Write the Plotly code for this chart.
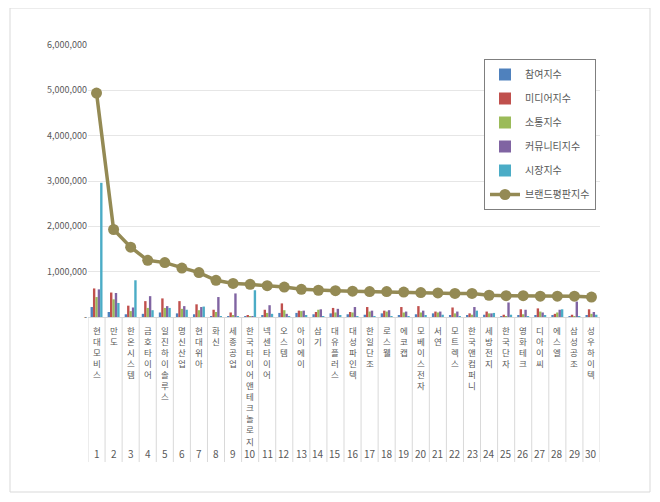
import plotly.graph_objects as go

categories = ["현대모비스", "만도", "한온시스템", "금호타이어", "일진하이솔루스", "명신산업", "현대위아", "화신",
              "세종공업", "한국타이어앤테크놀로지", "넥센타이어", "오스템", "아이에이", "삼기", "대유플러스",
              "대성파인텍", "한일단조", "로스웰", "에코캡", "모베이스전자", "서연", "모트렉스", "한국앤컴퍼니",
              "세방전지", "한국단자", "영화테크", "디아이씨", "에스엘", "삼성공조", "성우하이텍"]
ranks = [str(i) for i in range(1, 31)]

participation = [220000, 110000, 60000, 70000, 100000, 80000, 60000, 15000, 10000, 5000,
                 30000, 90000, 90000, 60000, 80000, 60000, 50000, 80000, 40000, 60000,
                 80000, 40000, 30000, 50000, 10000, 40000, 30000, 40000, 10000, 40000]
media = [630000, 540000, 250000, 350000, 410000, 350000, 280000, 160000, 100000, 40000,
         160000, 300000, 140000, 110000, 200000, 110000, 220000, 140000, 220000, 240000,
         120000, 210000, 80000, 120000, 50000, 170000, 190000, 70000, 50000, 170000]
communication = [440000, 390000, 130000, 200000, 200000, 180000, 150000, 110000, 40000, 5000,
                 90000, 150000, 130000, 160000, 100000, 100000, 120000, 120000, 100000, 100000,
                 100000, 80000, 50000, 80000, 20000, 60000, 120000, 100000, 20000, 70000]
community = [610000, 530000, 210000, 460000, 240000, 240000, 220000, 440000, 520000, 20000,
             260000, 70000, 140000, 170000, 180000, 220000, 140000, 150000, 120000, 140000,
             120000, 120000, 220000, 80000, 320000, 160000, 100000, 160000, 340000, 110000]
market = [2960000, 310000, 810000, 150000, 200000, 160000, 230000, 10000, 10000, 590000,
          70000, 10000, 30000, 10000, 30000, 20000, 20000, 20000, 20000, 30000,
          50000, 20000, 140000, 90000, 50000, 20000, 30000, 170000, 10000, 50000]
brand = [4940000, 1930000, 1540000, 1250000, 1200000, 1080000, 980000, 810000, 740000, 720000,
         690000, 660000, 610000, 590000, 580000, 570000, 560000, 560000, 550000, 540000,
         530000, 520000, 520000, 480000, 470000, 470000, 460000, 460000, 460000, 440000]

series_names = ["참여지수", "미디어지수", "소통지수", "커뮤니티지수", "시장지수"]
series_values = [participation, media, communication, community, market]
series_colors = ["#4f81bd", "#c0504d", "#9bbb59", "#8064a2", "#4bacc6"]
line_name = "브랜드평판지수"
line_color = "#948a54"

ytick_vals = [0, 1000000, 2000000, 3000000, 4000000, 5000000, 6000000]
ytick_text = ["-", "1,000,000", "2,000,000", "3,000,000", "4,000,000", "5,000,000", "6,000,000"]

FONT = "Noto Sans CJK KR"
TXT = "#595959"

fig = go.Figure()
for name, vals, col in zip(series_names, series_values, series_colors):
    fig.add_trace(go.Bar(x=categories, y=vals, name=name, marker_color=col,
                         marker_line_width=0, legendgroup=name))
fig.add_trace(go.Scatter(x=categories, y=brand, name=line_name, mode="lines+markers",
                         line=dict(color=line_color, width=3.5),
                         marker=dict(color=line_color, size=11), legendgroup=line_name))

# page has an 8px body margin; work in page pixels, convert to figure pixels
OFF = 8
W, H = 660 - OFF, 502 - OFF
plot_l, plot_r, plot_t, plot_b = 88, 600, 45, 317
L, R = plot_l - OFF, W - (plot_r - OFF)
T, B = plot_t - OFF, H - (plot_b - OFF)
pw, ph = plot_r - plot_l, plot_b - plot_t

def py(page_y):
    return (plot_b - page_y) / ph

def px(page_x):
    return (page_x - plot_l) / pw

annotations = []
for cat, rk in zip(categories, ranks):
    annotations.append(dict(x=cat, xref="x", y=0, yref="paper", text="<br>".join(cat),
                            showarrow=False, yanchor="top", xanchor="center", yshift=-5,
                            font=dict(family=FONT, size=8.5, color=TXT)))
    annotations.append(dict(x=cat, xref="x", y=py(453), yref="paper", text=rk, showarrow=False,
                            yanchor="middle", xanchor="center",
                            font=dict(family=FONT, size=10, color=TXT)))

shapes = []
for i in range(len(categories) + 1):
    shapes.append(dict(type="line", xref="x", yref="paper", x0=i - 0.5, x1=i - 0.5,
                       y0=0, y1=py(462), line=dict(color="#d9d9d9", width=1)))
shapes.append(dict(type="rect", xref="paper", yref="paper",
                   x0=px(10), x1=px(650), y0=py(492), y1=py(8),
                   line=dict(color="#d9d9d9", width=1), fillcolor="rgba(0,0,0,0)", layer="below"))

fig.update_layout(
    width=W, height=H,
    margin=dict(l=L, r=R, t=T, b=B),
    paper_bgcolor="white", plot_bgcolor="white",
    barmode="group", bargap=0.3, bargroupgap=0,
    font=dict(family=FONT, size=10, color=TXT),
    showlegend=True,
    legend=dict(x=px(484), y=py(59), xanchor="left", yanchor="top",
                bordercolor="#7f7f7f", borderwidth=1, bgcolor="white",
                font=dict(family=FONT, size=10, color=TXT), tracegroupgap=5,
                itemwidth=30),
    annotations=annotations,
    shapes=shapes,
)
fig.update_xaxes(showticklabels=False, showgrid=False, showline=True, linecolor="#d9d9d9",
                 ticks="", range=[-0.5, len(categories) - 0.5])
fig.update_yaxes(range=[0, 6000000], tickvals=ytick_vals, ticktext=ytick_text,
                 showgrid=True, gridcolor="#e6e6e6", zeroline=False,
                 tickfont=dict(family=FONT, size=9, color=TXT), ticks="", showline=False)

fig.write_html("out.html")
